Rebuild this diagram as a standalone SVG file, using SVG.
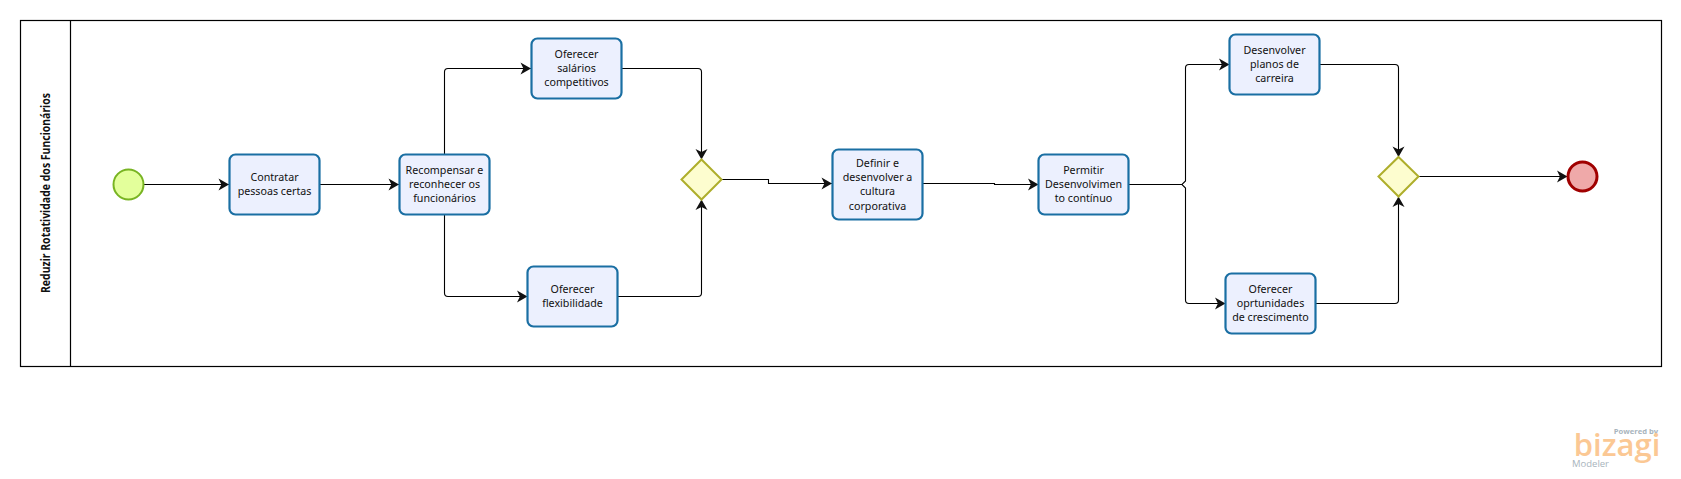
<svg xmlns="http://www.w3.org/2000/svg" width="1681" height="479" viewBox="0 0 1681 479">
<style>
.pool{fill:#fff;stroke:#000;stroke-width:1.2}
.task{fill:#ecf0fe;stroke:#1a6fa3;stroke-width:2.2}
.gw{fill:#fdfdcf;stroke:#aeae2b;stroke-width:2}
.c{fill:none;stroke:#000;stroke-width:1.1;marker-end:url(#a)}
text{font-family:"Noto Sans","Liberation Sans",sans-serif;font-size:10.7px;fill:#111;text-anchor:middle}
.logo{font-family:"Open Sans",sans-serif}
</style>
<defs>
<marker id="a" markerUnits="userSpaceOnUse" markerWidth="13" markerHeight="14" refX="11" refY="6.5" orient="auto" viewBox="0 0 13 13"><path d="M0.5,0.5L11,6.5L0.5,12.5L3.4,6.5z" fill="#111"/></marker>
</defs>
<rect width="1681" height="479" fill="#fff"/>
<g id="pool">
<rect class="pool" x="20.5" y="20.5" width="1641" height="346"/>
<line x1="70.5" y1="20.5" x2="70.5" y2="366.5" stroke="#000" stroke-width="1.2"/>
<text transform="translate(49.5 193) rotate(-90)" textLength="200" lengthAdjust="spacingAndGlyphs" style="font-weight:bold;font-size:11.5px">Reduzir Rotatividade dos Funcionários</text>
</g>
<g id="connectors">
<path class="c" d="M144,184.5H229"/>
<path class="c" d="M320,184.5H399"/>
<path class="c" d="M444.5,154V72Q444.5,68.5 448,68.5H531"/>
<path class="c" d="M444.5,215V293Q444.5,296.5 448,296.5H527.5"/>
<path class="c" d="M622,68.5H698Q701.5,68.5 701.5,72V159.5"/>
<path class="c" d="M618,296.5H698Q701.5,296.5 701.5,293V199.5"/>
<path class="c" d="M721.5,179.5H768.5V183.5H832"/>
<path class="c" d="M922.5,183.5H994.5V184.5H1038.5"/>
<path class="c" d="M1128.5,184.5H1182L1185.5,181V68Q1185.5,64.5 1189,64.5H1229.5"/>
<path class="c" d="M1128.5,184.5H1182L1185.5,188V300Q1185.5,303.5 1189,303.5H1225.5"/>
<path class="c" d="M1320,64.5H1395Q1398.5,64.5 1398.5,68V157"/>
<path class="c" d="M1316,303.5H1395Q1398.5,303.5 1398.5,300V196.5"/>
<path class="c" d="M1418.5,176.5H1567.5"/>
</g>
<g id="start"><circle cx="128.5" cy="184.5" r="15" fill="#e3ff9b" stroke="#78b422" stroke-width="2"/></g>
<g id="t1"><rect class="task" x="229.5" y="154.5" width="90" height="60" rx="6"/><text x="274.5" y="181">Contratar</text><text x="274.5" y="195">pessoas certas</text></g>
<g id="t2"><rect class="task" x="399.5" y="154.5" width="90" height="60" rx="6"/><text x="444.5" y="174">Recompensar e</text><text x="444.5" y="188">reconhecer os</text><text x="444.5" y="202">funcionários</text></g>
<g id="t3"><rect class="task" x="531.5" y="38.5" width="90" height="60" rx="6"/><text x="576.5" y="58">Oferecer</text><text x="576.5" y="72">salários</text><text x="576.5" y="86">competitivos</text></g>
<g id="t4"><rect class="task" x="527.5" y="266.5" width="90" height="60" rx="6"/><text x="572.5" y="293">Oferecer</text><text x="572.5" y="307">flexibilidade</text></g>
<g id="g1"><polygon class="gw" points="701.5,159.5 721.5,179.5 701.5,199.5 681.5,179.5"/></g>
<g id="t5"><rect class="task" x="832.5" y="149.5" width="90" height="70" rx="6"/><text x="877.5" y="167">Definir e</text><text x="877.5" y="181">desenvolver a</text><text x="877.5" y="195">cultura</text><text x="877.5" y="210">corporativa</text></g>
<g id="t6"><rect class="task" x="1038.5" y="154.5" width="90" height="60" rx="6"/><text x="1083.5" y="174">Permitir</text><text x="1083.5" y="188">Desenvolvimen</text><text x="1083.5" y="202">to contínuo</text></g>
<g id="t7"><rect class="task" x="1229.5" y="34.5" width="90" height="60" rx="6"/><text x="1274.5" y="54">Desenvolver</text><text x="1274.5" y="68">planos de</text><text x="1274.5" y="82">carreira</text></g>
<g id="t8"><rect class="task" x="1225.5" y="273.5" width="90" height="60" rx="6"/><text x="1270.5" y="293">Oferecer</text><text x="1270.5" y="307">oprtunidades</text><text x="1270.5" y="321">de crescimento</text></g>
<g id="g2"><polygon class="gw" points="1398.5,157 1418.5,176.5 1398.5,196.5 1378.5,176.5"/></g>
<g id="end"><circle cx="1582.5" cy="176.5" r="14.5" fill="#efa9a9" stroke="#a00000" stroke-width="3"/></g>
<g id="logo">
<text class="logo" x="1636" y="434" style="font-size:7.6px;font-weight:bold;fill:#a8b4bc">Powered by</text>
<text class="logo" x="1617" y="455.5" style="font-size:31px;font-weight:600;fill:#fbc894">bizagi</text>
<text class="logo" x="1590.5" y="467" style="font-size:9.5px;fill:#a8b4bc">Modeler</text>
</g>
</svg>
